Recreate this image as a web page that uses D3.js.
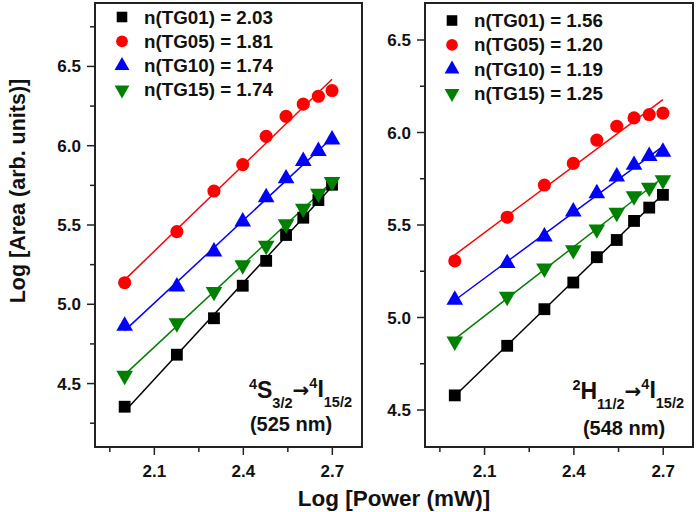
<!DOCTYPE html>
<html>
<head>
<meta charset="utf-8">
<script src="https://cdn.jsdelivr.net/npm/d3@7"></script>
<style>
  body { margin: 0; background: #fff; }
  text { font-family: "Liberation Sans", Arial, sans-serif; font-weight: bold; fill: #111; }
</style>
</head>
<body>
<div id="main"></div>
<script>
const ctx = {
    w: 697,
    h: 512,
};

// log10 of excitation power (mW)
const logPower = [2.000, 2.176, 2.301, 2.398, 2.477, 2.544, 2.602, 2.653, 2.699];

const samples = ["TG01", "TG05", "TG10", "TG15"];
const colors = ["#000000", "#ff0000", "#0000ff", "#008000"];
const symbols = ["square", "circle", "triangle", "triangleDown"];

// 4S3/2 -> 4I15/2 (525 nm)
const tg01_525 = [4.354, 4.682, 4.912, 5.117, 5.274, 5.437, 5.546, 5.657, 5.754];
const tg05_525 = [5.136, 5.458, 5.714, 5.881, 6.059, 6.185, 6.262, 6.312, 6.348];
const tg10_525 = [4.864, 5.111, 5.332, 5.521, 5.674, 5.793, 5.903, 5.966, 6.038];
const tg15_525 = [4.550, 4.881, 5.079, 5.247, 5.370, 5.506, 5.604, 5.699, 5.772];
const slopes_525 = [2.03, 1.81, 1.74, 1.74];

// 2H11/2 -> 4I15/2 (548 nm)
const tg01_548 = [4.579, 4.847, 5.045, 5.189, 5.326, 5.419, 5.522, 5.594, 5.663];
const tg05_548 = [5.306, 5.542, 5.716, 5.833, 5.959, 6.034, 6.079, 6.097, 6.105];
const tg10_548 = [5.095, 5.293, 5.437, 5.572, 5.671, 5.761, 5.824, 5.872, 5.895];
const tg15_548 = [4.871, 5.113, 5.266, 5.365, 5.477, 5.567, 5.656, 5.703, 5.743];
const slopes_548 = [1.56, 1.20, 1.19, 1.25];

const xTicks = [2.1, 2.4, 2.7];
const xMinor = [1.95, 2.25, 2.55];
const yTicks = [4.5, 5.0, 5.5, 6.0, 6.5];
const yMinor = [4.25, 4.75, 5.25, 5.75, 6.25, 6.75];

function symbolPath(name, size) {
    if (name === "triangleDown") {
        return d3.symbol().type(d3.symbolTriangle).size(size)();
    }
    const t = {square: d3.symbolSquare, circle: d3.symbolCircle, triangle: d3.symbolTriangle}[name];
    return d3.symbol().type(t).size(size)();
}
const symSize = {square: 140, circle: 135, triangle: 120, triangleDown: 120};

function createPanel(svgEl, opt) {
    const x = d3.scaleLinear().domain([1.9, 2.8]).range([opt.left, opt.right]);
    const y = d3.scaleLinear().domain(opt.yDomain).range([opt.bottom, opt.top]);
    const g = svgEl.append("g");
    const inY = v => v > opt.yDomain[0] && v < opt.yDomain[1];

    // ticks (outward, left & bottom)
    const tk = g.append("g").attr("stroke", "#222").attr("stroke-width", 1.5);
    tk.selectAll("line.ym").data(yTicks.filter(inY))
      .enter().append("line")
      .attr("x1", opt.left - 8).attr("x2", opt.left)
      .attr("y1", d => y(d)).attr("y2", d => y(d));
    tk.selectAll("line.yn").data(yMinor.filter(inY))
      .enter().append("line")
      .attr("x1", opt.left - 5).attr("x2", opt.left)
      .attr("y1", d => y(d)).attr("y2", d => y(d));
    tk.selectAll("line.xm").data(xTicks).enter().append("line")
      .attr("x1", d => x(d)).attr("x2", d => x(d))
      .attr("y1", opt.bottom).attr("y2", opt.bottom + 8);
    tk.selectAll("line.xn").data(xMinor).enter().append("line")
      .attr("x1", d => x(d)).attr("x2", d => x(d))
      .attr("y1", opt.bottom).attr("y2", opt.bottom + 5);

    g.selectAll("text.yl").data(yTicks.filter(inY))
      .enter().append("text")
      .attr("x", opt.left - 14).attr("y", d => y(d) + 6)
      .attr("text-anchor", "end").attr("font-size", 17)
      .text(d => d.toFixed(1));
    g.selectAll("text.xl").data(xTicks).enter().append("text")
      .attr("x", d => x(d)).attr("y", opt.bottom + 30)
      .attr("text-anchor", "middle").attr("font-size", 17)
      .text(d => d.toFixed(1));

    // fit lines: slope n, through the mean point
    const mx = d3.mean(logPower);
    opt.series.forEach((vals, i) => {
        const b = d3.mean(vals) - opt.slopes[i] * mx;
        const x0 = logPower[0], x1 = logPower[logPower.length - 1];
        g.append("line")
          .attr("x1", x(x0)).attr("y1", y(b + opt.slopes[i] * x0))
          .attr("x2", x(x1)).attr("y2", y(b + opt.slopes[i] * x1))
          .attr("stroke", colors[i]).attr("stroke-width", 1.5);
    });

    // markers
    opt.series.forEach((vals, i) => {
        g.selectAll("path.s" + i).data(vals).enter().append("path")
          .attr("d", symbolPath(symbols[i], symSize[symbols[i]]))
          .attr("transform", (d, j) => `translate(${x(logPower[j])},${y(d)})` + (symbols[i] === "triangleDown" ? " rotate(180)" : ""))
          .attr("fill", colors[i]);
    });

    // frame
    g.append("rect")
      .attr("x", opt.left).attr("y", opt.top)
      .attr("width", opt.right - opt.left).attr("height", opt.bottom - opt.top)
      .attr("fill", "none").attr("stroke", "#222").attr("stroke-width", 2);

    // legend
    const lg = g.append("g");
    samples.forEach((s, i) => {
        const cy = opt.legY + i * 24.3;
        lg.append("path")
          .attr("d", symbolPath(symbols[i], symSize[symbols[i]] * 0.8))
          .attr("transform", `translate(${opt.legX},${cy})` + (symbols[i] === "triangleDown" ? " rotate(180)" : ""))
          .attr("fill", colors[i]);
        lg.append("text")
          .attr("x", opt.legX + 22).attr("y", cy + 6.5)
          .attr("font-size", 18.8)
          .text(`n(${s}) = ${opt.slopes[i].toFixed(2)}`);
    });

    // transition label
    const t = g.append("text")
      .attr("x", opt.annX).attr("y", opt.annY)
      .attr("text-anchor", "end").attr("font-size", 23);
    opt.ann.forEach(p => {
        const sp = t.append("tspan").text(p.t);
        if (p.k === "sup") sp.attr("font-size", 14.5).attr("dy", -9);
        else if (p.k === "sub") sp.attr("font-size", 14.5).attr("dy", 10);
        else if (p.k === "arrow") sp.attr("font-family", "DejaVu Sans").attr("font-size", 20).attr("dy", p.dy);
        else sp.attr("dy", p.dy || 0);
    });
    g.append("text")
      .attr("x", opt.nmX).attr("y", opt.nmY)
      .attr("text-anchor", "middle").attr("font-size", 20)
      .text(opt.nm);
}

function createViz() {
    const svgEl = d3.select("#main").append("svg")
      .attr("width", ctx.w)
      .attr("height", ctx.h);

    createPanel(svgEl, {
        left: 95, right: 362, top: 3, bottom: 447,
        yDomain: [4.1, 6.9],
        series: [tg01_525, tg05_525, tg10_525, tg15_525],
        slopes: slopes_525,
        legX: 122, legY: 17,
        annX: 352, annY: 398,
        ann: [{t: "4", k: "sup"}, {t: "S", dy: 9}, {t: "3/2", k: "sub"}, {t: "\u2192", k: "arrow", dy: -11},
              {t: "4", k: "sup", }, {t: "I", dy: 9}, {t: "15/2", k: "sub"}],
        nm: "(525 nm)", nmX: 291, nmY: 431,
    });
    createPanel(svgEl, {
        left: 425, right: 693, top: 3, bottom: 447,
        yDomain: [4.3, 6.7],
        series: [tg01_548, tg05_548, tg10_548, tg15_548],
        slopes: slopes_548,
        legX: 452, legY: 20.5,
        annX: 684, annY: 399,
        ann: [{t: "2", k: "sup"}, {t: "H", dy: 9}, {t: "11/2", k: "sub"}, {t: "\u2192", k: "arrow", dy: -11},
              {t: "4", k: "sup"}, {t: "I", dy: 9}, {t: "15/2", k: "sub"}],
        nm: "(548 nm)", nmX: 624, nmY: 435,
    });

    svgEl.append("text")
      .attr("transform", "translate(25,191) rotate(-90)")
      .attr("text-anchor", "middle").attr("font-size", 21.5)
      .text("Log [Area (arb. units)]");
    svgEl.append("text")
      .attr("x", 394).attr("y", 506)
      .attr("text-anchor", "middle").attr("font-size", 22.5)
      .text("Log [Power (mW)]");
}

createViz();
</script>
</body>
</html>
